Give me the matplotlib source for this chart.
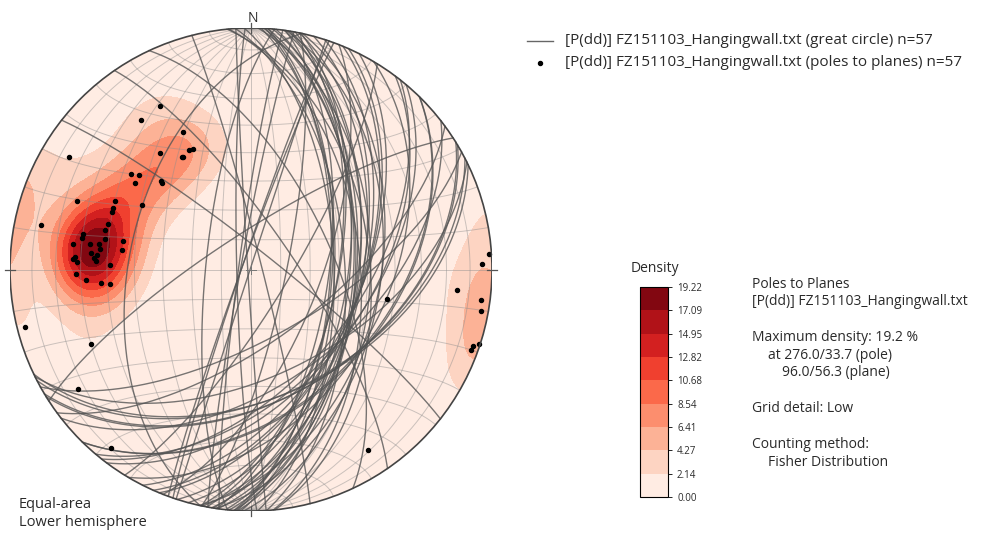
import numpy as np
import matplotlib
matplotlib.use("Agg")
import matplotlib.pyplot as plt
from matplotlib.patches import Circle
from matplotlib.lines import Line2D

plt.rcParams['font.family'] = ['Open Sans', 'DejaVu Sans']

# ---------------- data: planes as dip direction / dip ----------------
dip_direction = [150.9, 143.6, 153.6, 152.6, 154.3, 148.2, 149.0, 142.0, 128.3, 130.1,
                 126.8, 134.3, 134.4, 121.6, 111.4, 120.6, 101.8, 75.8, 65.0, 55.5,
                 38.2, 282.2, 327.0, 266.4, 268.6, 275.6, 277.6, 280.3, 288.1, 288.9,
                 290.1, 116.7, 113.9, 112.4, 107.8, 105.1, 102.0, 100.6, 101.6, 102.4,
                 98.2, 99.4, 97.9, 98.4, 94.0, 93.4, 92.4, 95.2, 93.1, 91.7,
                 88.4, 86.3, 84.7, 84.3, 96.0, 99.0, 94.0]
dip = [66.5, 65.8, 53.6, 46.3, 46.0, 45.4, 45.4, 51.5, 53.5, 50.9,
       50.3, 43.3, 42.7, 77.5, 66.6, 43.5, 78.2, 86.3, 62.5, 76.1,
       83.1, 48.1, 78.0, 88.9, 85.2, 74.7, 85.8, 86.5, 89.7, 86.9,
       86.9, 52.9, 52.5, 52.5, 52.2, 52.6, 60.4, 60.6, 51.9, 45.4,
       63.6, 53.6, 53.1, 45.1, 62.4, 63.0, 61.6, 53.9, 54.3, 48.9,
       61.8, 58.0, 52.6, 49.1, 56.3, 57.0, 55.0]
density_max = 19.2235
n_levels = 10
legend_labels = ["[P(dd)] FZ151103_Hangingwall.txt (great circle) n=57",
                 "[P(dd)] FZ151103_Hangingwall.txt (poles to planes) n=57"]
info_lines = [(752, "Poles to Planes"), (752, "[P(dd)] FZ151103_Hangingwall.txt"), (752, ""),
              (752, "Maximum density: 19.2 %"), (768, "at 276.0/33.7 (pole)"),
              (782, "96.0/56.3 (plane)"), (752, ""),
              (752, "Grid detail: Low"), (752, ""), (752, "Counting method:"),
              (768, "Fisher Distribution")]

dd = np.radians(np.array(dip_direction))
dp = np.radians(np.array(dip))
n = len(dd)

# ---------------- projection helpers (equal-area, lower hemisphere) ----------------
def project(E, N, D):
    s = 1.0 / np.sqrt(1.0 + D)
    return E * s, N * s

# pole vectors (E, N, Down)
ptr = dd + np.pi
ppl = np.pi / 2 - dp
PE = np.cos(ppl) * np.sin(ptr)
PN = np.cos(ppl) * np.cos(ptr)
PD = np.sin(ppl)

W, H = 1001, 534
fig = plt.figure(figsize=(W / 100, H / 100), dpi=100)

cx0, cx1, cy0, cy1 = 10, 492, 28, 511
ax = fig.add_axes([cx0 / W, (H - cy1) / H, (cx1 - cx0) / W, (cy1 - cy0) / H])
ax.set_xlim(-1, 1)
ax.set_ylim(-1, 1)
ax.axis('off')

clip = Circle((0, 0), 1.0, transform=ax.transData, facecolor='none', edgecolor='none')
ax.add_patch(clip)

# ---------------- density (Fisher kernel) ----------------
g = np.linspace(-1.02, 1.02, 141)
GX, GY = np.meshgrid(g, g)
R = np.hypot(GX, GY)
Rc = np.minimum(R, 1.0)
Dg = 1 - Rc ** 2
Hg = np.sqrt(np.clip(1 - Dg ** 2, 0, None))
with np.errstate(invalid='ignore', divide='ignore'):
    Eg = np.where(R > 0, Hg * GX / R, 0.0)
    Ng = np.where(R > 0, Hg * GY / R, 0.0)
kappa = 40.0
dens = np.zeros_like(GX)
for i in range(n):
    c = np.abs(Eg * PE[i] + Ng * PN[i] + Dg * PD[i])
    dens += np.exp(kappa * (c - 1))
inside = R <= 1
dens = dens / dens[inside].max() * density_max
levels = np.linspace(0, density_max, n_levels)
cf = ax.contourf(GX, GY, dens, levels=levels, cmap='Reds', extend='neither', zorder=1)
cf.set_clip_path(clip)

# ---------------- Schmidt net grid ----------------
gcol = (0.55, 0.55, 0.55, 0.45)
t = np.radians(np.linspace(-90, 90, 181))
for lon in range(-80, 90, 10):
    lo = np.radians(lon)
    k = np.sqrt(2 / (1 + np.cos(t) * np.cos(lo))) / np.sqrt(2)
    ax.plot(k * np.cos(t) * np.sin(lo), k * np.sin(t), color=gcol, lw=0.7, zorder=2)
for lat in range(-80, 90, 10):
    la = np.radians(lat)
    k = np.sqrt(2 / (1 + np.cos(la) * np.cos(t))) / np.sqrt(2)
    ax.plot(k * np.cos(la) * np.sin(t), k * np.sin(la) * np.ones_like(t), color=gcol, lw=0.7, zorder=2)

# ---------------- great circles ----------------
rk = np.radians(np.linspace(0, 180, 181))
for i in range(n):
    st = dd[i] - np.pi / 2
    sv = np.array([np.sin(st), np.cos(st), 0.0])
    dv = np.array([np.cos(dp[i]) * np.sin(dd[i]), np.cos(dp[i]) * np.cos(dd[i]), np.sin(dp[i])])
    E = np.cos(rk) * sv[0] + np.sin(rk) * dv[0]
    N = np.cos(rk) * sv[1] + np.sin(rk) * dv[1]
    D = np.cos(rk) * sv[2] + np.sin(rk) * dv[2]
    x, y = project(E, N, D)
    ax.plot(x, y, color='#555555', lw=1.0, alpha=0.8, zorder=3)

# ---------------- poles ----------------
px, py = project(PE, PN, PD)
ax.plot(px, py, 'o', color='black', ms=2.9, zorder=4)

# primitive and ticks
ax.add_patch(Circle((0, 0), 1.0, facecolor='none', edgecolor='#444444', lw=1.2, zorder=5))
tl = 0.022
for a in (0, 90, 180, 270):
    s, c = np.sin(np.radians(a)), np.cos(np.radians(a))
    ax.plot([s * (1 - tl), s * (1 + tl)], [c * (1 - tl), c * (1 + tl)], color='#555555', lw=0.9,
            zorder=5, clip_on=False)
ax.plot([-0.02, 0.02], [0, 0], color='#777777', lw=0.7, zorder=5)
ax.plot([0, 0], [-0.02, 0.02], color='#777777', lw=0.7, zorder=5)

txtc = '#2a2a2a'
fs = 10
fig.text(253 / W, 1 - 18 / H, 'N', ha='center', va='center', fontsize=fs, color=txtc)
fig.text(19 / W, 1 - 505 / H, 'Equal-area', ha='left', va='center', fontsize=10.5, color=txtc)
fig.text(19 / W, 1 - 523 / H, 'Lower hemisphere', ha='left', va='center', fontsize=10.5, color=txtc)

# legend
fig.add_artist(Line2D([527 / W, 553 / W], [1 - 41 / H, 1 - 41 / H], color='#666666', lw=1.0))
fig.add_artist(Line2D([540 / W], [1 - 63 / H], marker='o', color='black', ms=2.9, lw=0))
fig.text(565 / W, 1 - 41 / H, legend_labels[0], ha='left', va='center', fontsize=11, color=txtc)
fig.text(565 / W, 1 - 63 / H, legend_labels[1], ha='left', va='center', fontsize=11, color=txtc)

# colorbar
cax = fig.add_axes([640 / W, (H - 497) / H, 28 / W, 210 / H])
cb = fig.colorbar(cf, cax=cax, ticks=levels)
cb.ax.set_yticklabels(['%.2f' % v for v in levels], fontsize=7, color=txtc)
cb.outline.set_linewidth(0.8)
cb.ax.tick_params(length=3, width=0.6)
fig.text(655 / W, 1 - 268 / H, 'Density', ha='center', va='center', fontsize=fs, color=txtc)

# info text
y0 = 284
for i, (xpos, line) in enumerate(info_lines):
    if line:
        fig.text(xpos / W, 1 - (y0 + i * 17.8) / H, line, ha='left', va='center', fontsize=fs, color=txtc)

fig.savefig('out.png', dpi=100)
